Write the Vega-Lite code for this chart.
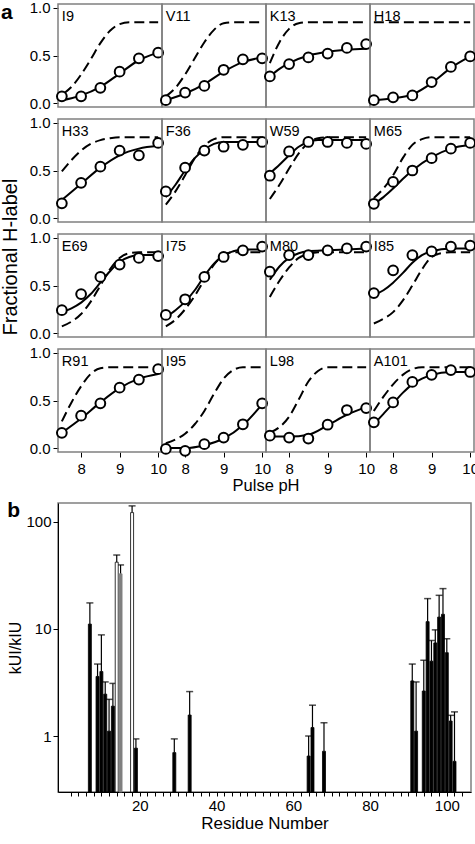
{
  "$schema": "https://vega.github.io/schema/vega-lite/v6.json",
  "background": "white",
  "padding": {"left": 0, "top": 0, "right": 0, "bottom": 0},
  "config": {
    "font": "Liberation Sans",
    "view": {"stroke": "#808080", "strokeWidth": 1.5},
    "axis": {"labelFontSize": 15, "labelColor": "black", "tickColor": "black", "domainColor": "black", "titleFontSize": 16, "titleFontWeight": "normal", "titleColor": "black", "grid": false, "labelFont": "Liberation Sans", "titleFont": "Liberation Sans"},
    "header": {"titleFontSize": 16, "titleFontWeight": "normal", "titleColor": "black", "titleFont": "Liberation Sans"},
    "title": {"font": "Liberation Sans", "color": "black"}
  },
  "datasets": {
    "panels": [
      {"p": "I9", "row": 1, "col": 1}, {"p": "V11", "row": 1, "col": 2}, {"p": "K13", "row": 1, "col": 3}, {"p": "H18", "row": 1, "col": 4},
      {"p": "H33", "row": 2, "col": 1}, {"p": "F36", "row": 2, "col": 2}, {"p": "W59", "row": 2, "col": 3}, {"p": "M65", "row": 2, "col": 4},
      {"p": "E69", "row": 3, "col": 1}, {"p": "I75", "row": 3, "col": 2}, {"p": "M80", "row": 3, "col": 3}, {"p": "I85", "row": 3, "col": 4},
      {"p": "R91", "row": 4, "col": 1}, {"p": "I95", "row": 4, "col": 2}, {"p": "L98", "row": 4, "col": 3}, {"p": "A101", "row": 4, "col": 4}
    ],
    "curves": [
      {"p":"I9","t":"o","x":7.5,"y":0.07},{"p":"I9","t":"o","x":8,"y":0.07},{"p":"I9","t":"o","x":8.5,"y":0.16},{"p":"I9","t":"o","x":9,"y":0.33},{"p":"I9","t":"o","x":9.5,"y":0.47},{"p":"I9","t":"o","x":10,"y":0.53},
      {"p":"I9","t":"f","x":7.5,"y":0.03},{"p":"I9","t":"f","x":7.75,"y":0.05},{"p":"I9","t":"f","x":8,"y":0.08},{"p":"I9","t":"f","x":8.5,"y":0.17},{"p":"I9","t":"f","x":9,"y":0.31},{"p":"I9","t":"f","x":9.5,"y":0.45},{"p":"I9","t":"f","x":10,"y":0.53},
      {"p":"I9","t":"d","x":7.55,"y":0.1},{"p":"I9","t":"d","x":7.75,"y":0.17},{"p":"I9","t":"d","x":8,"y":0.3},{"p":"I9","t":"d","x":8.25,"y":0.46},{"p":"I9","t":"d","x":8.5,"y":0.63},{"p":"I9","t":"d","x":8.75,"y":0.76},{"p":"I9","t":"d","x":9,"y":0.83},{"p":"I9","t":"d","x":9.25,"y":0.85},{"p":"I9","t":"d","x":10,"y":0.85},

      {"p":"V11","t":"o","x":7.5,"y":0.03},{"p":"V11","t":"o","x":8,"y":0.11},{"p":"V11","t":"o","x":8.5,"y":0.18},{"p":"V11","t":"o","x":9,"y":0.35},{"p":"V11","t":"o","x":9.5,"y":0.46},{"p":"V11","t":"o","x":10,"y":0.47},
      {"p":"V11","t":"f","x":7.5,"y":0.03},{"p":"V11","t":"f","x":8,"y":0.1},{"p":"V11","t":"f","x":8.5,"y":0.2},{"p":"V11","t":"f","x":9,"y":0.33},{"p":"V11","t":"f","x":9.5,"y":0.43},{"p":"V11","t":"f","x":10,"y":0.48},
      {"p":"V11","t":"d","x":7.5,"y":0.07},{"p":"V11","t":"d","x":7.75,"y":0.16},{"p":"V11","t":"d","x":8,"y":0.3},{"p":"V11","t":"d","x":8.25,"y":0.47},{"p":"V11","t":"d","x":8.5,"y":0.64},{"p":"V11","t":"d","x":8.75,"y":0.77},{"p":"V11","t":"d","x":9,"y":0.84},{"p":"V11","t":"d","x":9.25,"y":0.85},{"p":"V11","t":"d","x":10,"y":0.85},

      {"p":"K13","t":"o","x":7.5,"y":0.28},{"p":"K13","t":"o","x":8,"y":0.41},{"p":"K13","t":"o","x":8.5,"y":0.48},{"p":"K13","t":"o","x":9,"y":0.52},{"p":"K13","t":"o","x":9.5,"y":0.58},{"p":"K13","t":"o","x":10,"y":0.62},
      {"p":"K13","t":"f","x":7.5,"y":0.28},{"p":"K13","t":"f","x":7.75,"y":0.36},{"p":"K13","t":"f","x":8,"y":0.42},{"p":"K13","t":"f","x":8.5,"y":0.5},{"p":"K13","t":"f","x":9,"y":0.54},{"p":"K13","t":"f","x":9.5,"y":0.56},{"p":"K13","t":"f","x":10,"y":0.57},
      {"p":"K13","t":"d","x":7.5,"y":0.42},{"p":"K13","t":"d","x":7.75,"y":0.64},{"p":"K13","t":"d","x":8,"y":0.78},{"p":"K13","t":"d","x":8.25,"y":0.84},{"p":"K13","t":"d","x":8.5,"y":0.85},{"p":"K13","t":"d","x":10,"y":0.85},

      {"p":"H18","t":"o","x":7.5,"y":0.03},{"p":"H18","t":"o","x":8,"y":0.06},{"p":"H18","t":"o","x":8.5,"y":0.08},{"p":"H18","t":"o","x":9,"y":0.22},{"p":"H18","t":"o","x":9.5,"y":0.38},{"p":"H18","t":"o","x":10,"y":0.49},
      {"p":"H18","t":"f","x":7.5,"y":0.03},{"p":"H18","t":"f","x":8,"y":0.05},{"p":"H18","t":"f","x":8.5,"y":0.09},{"p":"H18","t":"f","x":9,"y":0.21},{"p":"H18","t":"f","x":9.5,"y":0.37},{"p":"H18","t":"f","x":10,"y":0.49},
      {"p":"H18","t":"d","x":7.5,"y":0.85},{"p":"H18","t":"d","x":10,"y":0.85},

      {"p":"H33","t":"o","x":7.5,"y":0.155},{"p":"H33","t":"o","x":8,"y":0.37},{"p":"H33","t":"o","x":8.5,"y":0.54},{"p":"H33","t":"o","x":9,"y":0.71},{"p":"H33","t":"o","x":9.5,"y":0.66},{"p":"H33","t":"o","x":10,"y":0.79},
      {"p":"H33","t":"f","x":7.5,"y":0.19},{"p":"H33","t":"f","x":8,"y":0.36},{"p":"H33","t":"f","x":8.5,"y":0.53},{"p":"H33","t":"f","x":9,"y":0.66},{"p":"H33","t":"f","x":9.5,"y":0.73},{"p":"H33","t":"f","x":10,"y":0.76},
      {"p":"H33","t":"d","x":7.5,"y":0.49},{"p":"H33","t":"d","x":7.75,"y":0.61},{"p":"H33","t":"d","x":8,"y":0.71},{"p":"H33","t":"d","x":8.25,"y":0.78},{"p":"H33","t":"d","x":8.5,"y":0.82},{"p":"H33","t":"d","x":8.75,"y":0.84},{"p":"H33","t":"d","x":9,"y":0.85},{"p":"H33","t":"d","x":10,"y":0.85},

      {"p":"F36","t":"o","x":7.5,"y":0.28},{"p":"F36","t":"o","x":8,"y":0.53},{"p":"F36","t":"o","x":8.5,"y":0.71},{"p":"F36","t":"o","x":9,"y":0.75},{"p":"F36","t":"o","x":9.5,"y":0.77},{"p":"F36","t":"o","x":10,"y":0.8},
      {"p":"F36","t":"f","x":7.5,"y":0.22},{"p":"F36","t":"f","x":7.75,"y":0.35},{"p":"F36","t":"f","x":8,"y":0.5},{"p":"F36","t":"f","x":8.25,"y":0.63},{"p":"F36","t":"f","x":8.5,"y":0.72},{"p":"F36","t":"f","x":8.75,"y":0.78},{"p":"F36","t":"f","x":9,"y":0.8},{"p":"F36","t":"f","x":10,"y":0.8},
      {"p":"F36","t":"d","x":7.5,"y":0.14},{"p":"F36","t":"d","x":7.75,"y":0.28},{"p":"F36","t":"d","x":8,"y":0.45},{"p":"F36","t":"d","x":8.25,"y":0.63},{"p":"F36","t":"d","x":8.5,"y":0.76},{"p":"F36","t":"d","x":8.75,"y":0.83},{"p":"F36","t":"d","x":9,"y":0.85},{"p":"F36","t":"d","x":10,"y":0.85},

      {"p":"W59","t":"o","x":7.5,"y":0.445},{"p":"W59","t":"o","x":8,"y":0.7},{"p":"W59","t":"o","x":8.5,"y":0.8},{"p":"W59","t":"o","x":9,"y":0.8},{"p":"W59","t":"o","x":9.5,"y":0.79},{"p":"W59","t":"o","x":10,"y":0.78},
      {"p":"W59","t":"f","x":7.5,"y":0.47},{"p":"W59","t":"f","x":7.75,"y":0.56},{"p":"W59","t":"f","x":8,"y":0.66},{"p":"W59","t":"f","x":8.25,"y":0.75},{"p":"W59","t":"f","x":8.5,"y":0.8},{"p":"W59","t":"f","x":8.75,"y":0.82},{"p":"W59","t":"f","x":9,"y":0.82},{"p":"W59","t":"f","x":10,"y":0.82},
      {"p":"W59","t":"d","x":7.5,"y":0.2},{"p":"W59","t":"d","x":7.75,"y":0.35},{"p":"W59","t":"d","x":8,"y":0.52},{"p":"W59","t":"d","x":8.25,"y":0.68},{"p":"W59","t":"d","x":8.5,"y":0.79},{"p":"W59","t":"d","x":8.75,"y":0.84},{"p":"W59","t":"d","x":9,"y":0.85},{"p":"W59","t":"d","x":10,"y":0.85},

      {"p":"M65","t":"o","x":7.5,"y":0.15},{"p":"M65","t":"o","x":8,"y":0.38},{"p":"M65","t":"o","x":8.5,"y":0.5},{"p":"M65","t":"o","x":9,"y":0.63},{"p":"M65","t":"o","x":9.5,"y":0.73},{"p":"M65","t":"o","x":10,"y":0.79},
      {"p":"M65","t":"f","x":7.5,"y":0.15},{"p":"M65","t":"f","x":7.75,"y":0.22},{"p":"M65","t":"f","x":8,"y":0.31},{"p":"M65","t":"f","x":8.25,"y":0.41},{"p":"M65","t":"f","x":8.5,"y":0.5},{"p":"M65","t":"f","x":9,"y":0.64},{"p":"M65","t":"f","x":9.5,"y":0.73},{"p":"M65","t":"f","x":10,"y":0.77},
      {"p":"M65","t":"d","x":7.5,"y":0.21},{"p":"M65","t":"d","x":7.75,"y":0.31},{"p":"M65","t":"d","x":8,"y":0.45},{"p":"M65","t":"d","x":8.25,"y":0.63},{"p":"M65","t":"d","x":8.5,"y":0.77},{"p":"M65","t":"d","x":8.75,"y":0.83},{"p":"M65","t":"d","x":9,"y":0.85},{"p":"M65","t":"d","x":10,"y":0.85},

      {"p":"E69","t":"o","x":7.5,"y":0.24},{"p":"E69","t":"o","x":8,"y":0.41},{"p":"E69","t":"o","x":8.5,"y":0.59},{"p":"E69","t":"o","x":9,"y":0.72},{"p":"E69","t":"o","x":9.5,"y":0.79},{"p":"E69","t":"o","x":10,"y":0.81},
      {"p":"E69","t":"f","x":7.5,"y":0.22},{"p":"E69","t":"f","x":7.75,"y":0.26},{"p":"E69","t":"f","x":8,"y":0.32},{"p":"E69","t":"f","x":8.25,"y":0.41},{"p":"E69","t":"f","x":8.5,"y":0.53},{"p":"E69","t":"f","x":8.75,"y":0.65},{"p":"E69","t":"f","x":9,"y":0.75},{"p":"E69","t":"f","x":9.25,"y":0.8},{"p":"E69","t":"f","x":9.5,"y":0.82},{"p":"E69","t":"f","x":10,"y":0.82},
      {"p":"E69","t":"d","x":7.5,"y":0.07},{"p":"E69","t":"d","x":7.75,"y":0.12},{"p":"E69","t":"d","x":8,"y":0.2},{"p":"E69","t":"d","x":8.25,"y":0.33},{"p":"E69","t":"d","x":8.5,"y":0.5},{"p":"E69","t":"d","x":8.75,"y":0.67},{"p":"E69","t":"d","x":9,"y":0.79},{"p":"E69","t":"d","x":9.25,"y":0.84},{"p":"E69","t":"d","x":9.5,"y":0.85},{"p":"E69","t":"d","x":10,"y":0.85},

      {"p":"I75","t":"o","x":7.5,"y":0.19},{"p":"I75","t":"o","x":8,"y":0.355},{"p":"I75","t":"o","x":8.5,"y":0.59},{"p":"I75","t":"o","x":9,"y":0.8},{"p":"I75","t":"o","x":9.5,"y":0.87},{"p":"I75","t":"o","x":10,"y":0.91},
      {"p":"I75","t":"f","x":7.5,"y":0.17},{"p":"I75","t":"f","x":7.75,"y":0.24},{"p":"I75","t":"f","x":8,"y":0.33},{"p":"I75","t":"f","x":8.25,"y":0.45},{"p":"I75","t":"f","x":8.5,"y":0.6},{"p":"I75","t":"f","x":8.75,"y":0.73},{"p":"I75","t":"f","x":9,"y":0.82},{"p":"I75","t":"f","x":9.25,"y":0.86},{"p":"I75","t":"f","x":9.5,"y":0.88},{"p":"I75","t":"f","x":10,"y":0.88},
      {"p":"I75","t":"d","x":7.5,"y":0.07},{"p":"I75","t":"d","x":7.75,"y":0.14},{"p":"I75","t":"d","x":8,"y":0.25},{"p":"I75","t":"d","x":8.25,"y":0.39},{"p":"I75","t":"d","x":8.5,"y":0.56},{"p":"I75","t":"d","x":8.75,"y":0.72},{"p":"I75","t":"d","x":9,"y":0.82},{"p":"I75","t":"d","x":9.25,"y":0.85},{"p":"I75","t":"d","x":10,"y":0.85},

      {"p":"M80","t":"o","x":7.5,"y":0.645},{"p":"M80","t":"o","x":8,"y":0.82},{"p":"M80","t":"o","x":8.5,"y":0.82},{"p":"M80","t":"o","x":9,"y":0.87},{"p":"M80","t":"o","x":9.5,"y":0.89},{"p":"M80","t":"o","x":10,"y":0.91},
      {"p":"M80","t":"f","x":7.5,"y":0.56},{"p":"M80","t":"f","x":7.75,"y":0.7},{"p":"M80","t":"f","x":8,"y":0.79},{"p":"M80","t":"f","x":8.25,"y":0.84},{"p":"M80","t":"f","x":8.5,"y":0.86},{"p":"M80","t":"f","x":9,"y":0.87},{"p":"M80","t":"f","x":9.5,"y":0.88},{"p":"M80","t":"f","x":10,"y":0.89},
      {"p":"M80","t":"d","x":7.5,"y":0.38},{"p":"M80","t":"d","x":7.75,"y":0.55},{"p":"M80","t":"d","x":8,"y":0.69},{"p":"M80","t":"d","x":8.25,"y":0.79},{"p":"M80","t":"d","x":8.5,"y":0.83},{"p":"M80","t":"d","x":8.75,"y":0.85},{"p":"M80","t":"d","x":10,"y":0.85},

      {"p":"I85","t":"o","x":7.5,"y":0.42},{"p":"I85","t":"o","x":8,"y":0.66},{"p":"I85","t":"o","x":8.5,"y":0.82},{"p":"I85","t":"o","x":9,"y":0.86},{"p":"I85","t":"o","x":9.5,"y":0.91},{"p":"I85","t":"o","x":10,"y":0.92},
      {"p":"I85","t":"f","x":7.5,"y":0.4},{"p":"I85","t":"f","x":7.75,"y":0.45},{"p":"I85","t":"f","x":8,"y":0.53},{"p":"I85","t":"f","x":8.25,"y":0.63},{"p":"I85","t":"f","x":8.5,"y":0.74},{"p":"I85","t":"f","x":8.75,"y":0.82},{"p":"I85","t":"f","x":9,"y":0.86},{"p":"I85","t":"f","x":9.5,"y":0.89},{"p":"I85","t":"f","x":10,"y":0.89},
      {"p":"I85","t":"d","x":7.5,"y":0.1},{"p":"I85","t":"d","x":7.75,"y":0.15},{"p":"I85","t":"d","x":8,"y":0.22},{"p":"I85","t":"d","x":8.25,"y":0.34},{"p":"I85","t":"d","x":8.5,"y":0.5},{"p":"I85","t":"d","x":8.75,"y":0.67},{"p":"I85","t":"d","x":9,"y":0.8},{"p":"I85","t":"d","x":9.25,"y":0.84},{"p":"I85","t":"d","x":9.5,"y":0.85},{"p":"I85","t":"d","x":10,"y":0.85},

      {"p":"R91","t":"o","x":7.5,"y":0.16},{"p":"R91","t":"o","x":8,"y":0.34},{"p":"R91","t":"o","x":8.5,"y":0.47},{"p":"R91","t":"o","x":9,"y":0.635},{"p":"R91","t":"o","x":9.5,"y":0.72},{"p":"R91","t":"o","x":10,"y":0.83},
      {"p":"R91","t":"f","x":7.5,"y":0.16},{"p":"R91","t":"f","x":8,"y":0.31},{"p":"R91","t":"f","x":8.5,"y":0.48},{"p":"R91","t":"f","x":9,"y":0.63},{"p":"R91","t":"f","x":9.5,"y":0.73},{"p":"R91","t":"f","x":10,"y":0.78},
      {"p":"R91","t":"d","x":7.5,"y":0.28},{"p":"R91","t":"d","x":7.75,"y":0.48},{"p":"R91","t":"d","x":8,"y":0.65},{"p":"R91","t":"d","x":8.25,"y":0.78},{"p":"R91","t":"d","x":8.5,"y":0.84},{"p":"R91","t":"d","x":8.75,"y":0.85},{"p":"R91","t":"d","x":10,"y":0.85},

      {"p":"I95","t":"o","x":7.5,"y":-0.01},{"p":"I95","t":"o","x":8,"y":-0.03},{"p":"I95","t":"o","x":8.5,"y":0.04},{"p":"I95","t":"o","x":9,"y":0.11},{"p":"I95","t":"o","x":9.5,"y":0.25},{"p":"I95","t":"o","x":10,"y":0.47},
      {"p":"I95","t":"f","x":7.5,"y":0.0},{"p":"I95","t":"f","x":8,"y":0.0},{"p":"I95","t":"f","x":8.5,"y":0.03},{"p":"I95","t":"f","x":9,"y":0.1},{"p":"I95","t":"f","x":9.5,"y":0.24},{"p":"I95","t":"f","x":10,"y":0.46},
      {"p":"I95","t":"d","x":7.5,"y":0.05},{"p":"I95","t":"d","x":7.75,"y":0.09},{"p":"I95","t":"d","x":8,"y":0.15},{"p":"I95","t":"d","x":8.25,"y":0.25},{"p":"I95","t":"d","x":8.5,"y":0.39},{"p":"I95","t":"d","x":8.75,"y":0.57},{"p":"I95","t":"d","x":9,"y":0.73},{"p":"I95","t":"d","x":9.25,"y":0.82},{"p":"I95","t":"d","x":9.5,"y":0.85},{"p":"I95","t":"d","x":10,"y":0.85},

      {"p":"L98","t":"o","x":7.5,"y":0.13},{"p":"L98","t":"o","x":8,"y":0.11},{"p":"L98","t":"o","x":8.5,"y":0.1},{"p":"L98","t":"o","x":9,"y":0.245},{"p":"L98","t":"o","x":9.5,"y":0.4},{"p":"L98","t":"o","x":10,"y":0.42},
      {"p":"L98","t":"f","x":7.5,"y":0.12},{"p":"L98","t":"f","x":8,"y":0.12},{"p":"L98","t":"f","x":8.5,"y":0.14},{"p":"L98","t":"f","x":9,"y":0.24},{"p":"L98","t":"f","x":9.5,"y":0.35},{"p":"L98","t":"f","x":10,"y":0.43},
      {"p":"L98","t":"d","x":7.5,"y":0.16},{"p":"L98","t":"d","x":7.75,"y":0.22},{"p":"L98","t":"d","x":8,"y":0.33},{"p":"L98","t":"d","x":8.25,"y":0.51},{"p":"L98","t":"d","x":8.5,"y":0.7},{"p":"L98","t":"d","x":8.75,"y":0.81},{"p":"L98","t":"d","x":9,"y":0.85},{"p":"L98","t":"d","x":10,"y":0.85},

      {"p":"A101","t":"o","x":7.5,"y":0.27},{"p":"A101","t":"o","x":8,"y":0.48},{"p":"A101","t":"o","x":8.5,"y":0.695},{"p":"A101","t":"o","x":9,"y":0.77},{"p":"A101","t":"o","x":9.5,"y":0.82},{"p":"A101","t":"o","x":10,"y":0.8},
      {"p":"A101","t":"f","x":7.5,"y":0.25},{"p":"A101","t":"f","x":7.75,"y":0.36},{"p":"A101","t":"f","x":8,"y":0.47},{"p":"A101","t":"f","x":8.25,"y":0.58},{"p":"A101","t":"f","x":8.5,"y":0.67},{"p":"A101","t":"f","x":8.75,"y":0.73},{"p":"A101","t":"f","x":9,"y":0.77},{"p":"A101","t":"f","x":9.5,"y":0.8},{"p":"A101","t":"f","x":10,"y":0.8},
      {"p":"A101","t":"d","x":7.5,"y":0.39},{"p":"A101","t":"d","x":7.75,"y":0.54},{"p":"A101","t":"d","x":8,"y":0.67},{"p":"A101","t":"d","x":8.25,"y":0.77},{"p":"A101","t":"d","x":8.5,"y":0.83},{"p":"A101","t":"d","x":8.75,"y":0.85},{"p":"A101","t":"d","x":10,"y":0.85}
    ],
    "bars": [
      {"r":7,"v":11.1,"e":17.5,"k":"f"},{"r":9,"v":3.6,"e":4.7,"k":"f"},{"r":10,"v":4.0,"e":8.8,"k":"f"},{"r":11,"v":2.46,"e":3.2,"k":"f"},{"r":12,"v":1.11,"e":2.2,"k":"f"},{"r":13,"v":1.9,"e":3.1,"k":"f"},
      {"r":14,"v":42,"e":49,"k":"o"},{"r":15,"v":32.7,"e":39.6,"k":"g"},{"r":18,"v":122,"e":141,"k":"o"},{"r":19,"v":0.77,"e":0.94,"k":"f"},
      {"r":29,"v":0.7,"e":0.94,"k":"f"},{"r":33,"v":1.57,"e":2.6,"k":"f"},
      {"r":64,"v":0.65,"e":1.0,"k":"f"},{"r":65,"v":1.2,"e":1.94,"k":"f"},{"r":68,"v":0.72,"e":1.33,"k":"f"},
      {"r":91,"v":3.27,"e":4.7,"k":"f"},{"r":92,"v":1.11,"e":3.2,"k":"f"},{"r":94,"v":2.63,"e":5.1,"k":"f"},{"r":95,"v":11.7,"e":19.2,"k":"f"},{"r":96,"v":5.0,"e":7.8,"k":"f"},{"r":97,"v":7.4,"e":9.8,"k":"f"},{"r":98,"v":12.9,"e":20.6,"k":"f"},{"r":99,"v":13.7,"e":23.8,"k":"f"},{"r":100,"v":6.0,"e":8.1,"k":"f"},{"r":101,"v":1.38,"e":1.56,"k":"f"},{"r":102,"v":0.58,"e":1.68,"k":"f"}
    ]
  },
  "vconcat": [
    {
      "data": {"name": "curves"},
      "transform": [{"lookup": "p", "from": {"data": {"name": "panels"}, "key": "p", "fields": ["row", "col"]}}],
      "title": {"text": "a", "anchor": "start", "orient": "top", "frame": "bounds", "fontSize": 21, "fontWeight": "bold", "offset": -22},
      "bounds": "flush",
      "facet": {
        "row": {"field": "row", "type": "ordinal", "header": {"labels": false, "title": "Fractional H-label\u00a0\u00a0\u00a0\u00a0\u00a0\u00a0\u00a0\u00a0\u00a0\u200b", "titleFontSize": 20, "titlePadding": -2}},
        "column": {"field": "col", "type": "ordinal", "header": {"labels": false, "title": "Pulse pH", "titleOrient": "bottom", "titleFontSize": 16.5, "titlePadding": -8}}
      },
      "spacing": {"row": 12, "column": 0},
      "spec": {
        "width": 104,
        "height": 103,
        "encoding": {
          "x": {"field": "x", "type": "quantitative", "scale": {"domain": [7.4, 10.1], "nice": false}, "axis": {"values": [8, 9, 10], "title": null, "domain": false, "tickSize": 5, "labelPadding": 4}},
          "y": {"field": "y", "type": "quantitative", "scale": {"domain": [-0.042, 1.042], "nice": false}, "axis": {"values": [0, 0.5, 1], "format": ".1f", "title": null, "domain": false, "tickSize": 5, "labelPadding": 3}}
        },
        "layer": [
          {"transform": [{"filter": "datum.t === 'd'"}], "mark": {"type": "line", "color": "black", "strokeWidth": 2, "strokeDash": [10, 5], "interpolate": "monotone"}},
          {"transform": [{"filter": "datum.t === 'f'"}], "mark": {"type": "line", "color": "black", "strokeWidth": 2, "interpolate": "monotone"}},
          {"transform": [{"filter": "datum.t === 'o'"}], "mark": {"type": "point", "shape": "circle", "size": 95, "filled": true, "fill": "white", "stroke": "black", "strokeWidth": 2, "opacity": 1}},
          {"transform": [{"filter": "datum.t === 'o' && datum.x === 7.5"}], "mark": {"type": "text", "align": "left", "baseline": "middle", "fontSize": 14.5, "color": "black"}, "encoding": {"x": {"datum": 7.5}, "y": {"datum": 0.9}, "text": {"field": "p"}}}
        ]
      }
    },
    {
      "data": {"name": "bars"},
      "width": 413,
      "height": 289,
      "encoding": {
        "x": {"field": "r", "type": "quantitative", "scale": {"domain": [0, 105], "nice": false}, "axis": {"values": [2,4,6,8,10,12,14,16,18,20,22,24,26,28,30,32,34,36,38,40,42,44,46,48,50,52,54,56,58,60,62,64,66,68,70,72,74,76,78,80,82,84,86,88,90,92,94,96,98,100,102,104], "labelExpr": "datum.value % 20 === 0 ? datum.label : ''", "labelOverlap": false, "title": "Residue Number", "titleFontSize": 17, "tickSize": 4, "labelPadding": 2, "titlePadding": 2}}
      },
      "layer": [
        {"mark": {"type": "rule", "color": "black", "strokeWidth": 1.2}, "encoding": {"y": {"field": "v", "type": "quantitative", "scale": {"type": "log", "domain": [0.3, 150], "nice": false}, "axis": {"values": [1, 10, 100], "format": "d", "title": "kUI/kIU", "tickSize": 5, "titlePadding": 2}}, "y2": {"field": "e"}}},
        {"mark": {"type": "tick", "orient": "horizontal", "color": "black", "size": 7, "thickness": 1.5}, "encoding": {"y": {"field": "e", "type": "quantitative"}}},
        {"mark": {"type": "bar", "size": 3, "strokeWidth": 0.8}, "encoding": {"y": {"field": "v", "type": "quantitative"}, "y2": {"datum": 0.3}, "color": {"field": "k", "type": "nominal", "scale": {"domain": ["f", "g", "o"], "range": ["black", "#808080", "white"]}, "legend": null}, "stroke": {"field": "k", "type": "nominal", "scale": {"domain": ["f", "g", "o"], "range": ["black", "#808080", "black"]}, "legend": null}}},
        {"transform": [{"filter": "datum.r === 18"}], "mark": {"type": "text", "align": "left", "baseline": "top", "fontSize": 21, "fontWeight": "bold", "color": "black"}, "encoding": {"x": {"datum": -14.5}, "y": {"datum": 160}, "text": {"value": "b"}}}
      ]
    }
  ],
  "spacing": 4
}
